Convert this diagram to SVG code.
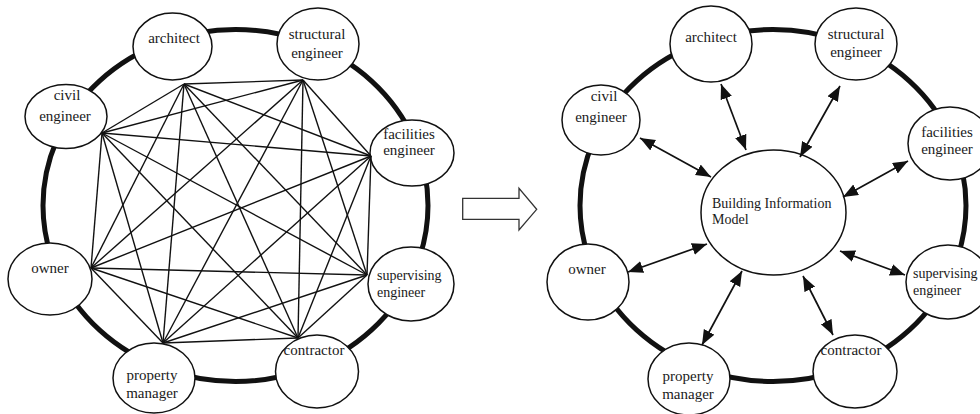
<svg xmlns="http://www.w3.org/2000/svg" width="980" height="414" viewBox="0 0 980 414">
<defs>
<marker id="ah" markerUnits="userSpaceOnUse" markerWidth="16" markerHeight="13" refX="15" refY="6" orient="auto-start-reverse" viewBox="0 0 16 13">
<path d="M0,0 L15,6 L0,12 z" fill="#111"/>
</marker>
<style>
.ring{fill:none;stroke:#111;stroke-width:5}
.node{fill:#fff;stroke:#111;stroke-width:1.5}
.t{font-family:"Liberation Serif","Times New Roman",serif;font-size:15px;fill:#1a1a1a;text-anchor:middle}
.ts{font-family:"Liberation Serif","Times New Roman",serif;font-size:14px;fill:#1a1a1a;text-anchor:start}
.l{stroke:#111;stroke-width:1.4}
.a{stroke:#111;stroke-width:1.7;marker-start:url(#ah);marker-end:url(#ah)}
</style>
</defs>
<rect width="980" height="414" fill="#fff"/>
<g id="rings">
<ellipse class="ring" cx="235.5" cy="205.5" rx="192.5" ry="176"/>
<ellipse class="ring" cx="773" cy="205.5" rx="193" ry="176"/>
</g>
<g id="left-nodes">
<g id="L-architect"><ellipse class="node" cx="172.5" cy="46.5" rx="39.5" ry="33.5"/><text class="t" x="174" y="43">architect</text></g>
<g id="L-structural"><ellipse class="node" cx="318" cy="44" rx="41" ry="36"/><text class="t" x="317" y="39">structural</text><text class="t" x="317" y="58">engineer</text></g>
<g id="L-civil"><ellipse class="node" cx="66" cy="116.5" rx="41" ry="32"/><text class="t" x="67" y="100">civil</text><text class="t" x="65" y="121">engineer</text></g>
<g id="L-facilities"><ellipse class="node" cx="412" cy="153" rx="42" ry="33"/><text class="t" x="409" y="139">facilities</text><text class="t" x="409" y="155">engineer</text></g>
<g id="L-owner"><ellipse class="node" cx="50" cy="279" rx="42" ry="36"/><text class="t" x="50" y="273">owner</text></g>
<g id="L-supervising"><ellipse class="node" cx="411" cy="284" rx="43" ry="37"/><text class="ts" x="377" y="280">supervising</text><text class="ts" x="377" y="297">engineer</text></g>
<g id="L-property"><ellipse class="node" cx="154" cy="378" rx="41" ry="35"/><text class="t" x="152" y="380">property</text><text class="t" x="152" y="398">manager</text></g>
<g id="L-contractor"><ellipse class="node" cx="317" cy="371.5" rx="41.5" ry="36.5"/><text class="t" x="314" y="355">contractor</text></g>
</g>
<g id="left-connectors">
<line class="l" x1="184" y1="84" x2="303" y2="80"/>
<line class="l" x1="184" y1="84" x2="102" y2="133"/>
<line class="l" x1="184" y1="84" x2="371" y2="156"/>
<line class="l" x1="184" y1="84" x2="91" y2="268"/>
<line class="l" x1="184" y1="84" x2="367" y2="275"/>
<line class="l" x1="184" y1="84" x2="163" y2="343"/>
<line class="l" x1="184" y1="84" x2="298" y2="338"/>
<line class="l" x1="303" y1="80" x2="102" y2="133"/>
<line class="l" x1="303" y1="80" x2="371" y2="156"/>
<line class="l" x1="303" y1="80" x2="91" y2="268"/>
<line class="l" x1="303" y1="80" x2="367" y2="275"/>
<line class="l" x1="303" y1="80" x2="163" y2="343"/>
<line class="l" x1="303" y1="80" x2="298" y2="338"/>
<line class="l" x1="102" y1="133" x2="371" y2="156"/>
<line class="l" x1="102" y1="133" x2="91" y2="268"/>
<line class="l" x1="102" y1="133" x2="367" y2="275"/>
<line class="l" x1="102" y1="133" x2="163" y2="343"/>
<line class="l" x1="102" y1="133" x2="298" y2="338"/>
<line class="l" x1="371" y1="156" x2="91" y2="268"/>
<line class="l" x1="371" y1="156" x2="367" y2="275"/>
<line class="l" x1="371" y1="156" x2="163" y2="343"/>
<line class="l" x1="371" y1="156" x2="298" y2="338"/>
<line class="l" x1="91" y1="268" x2="367" y2="275"/>
<line class="l" x1="91" y1="268" x2="163" y2="343"/>
<line class="l" x1="91" y1="268" x2="298" y2="338"/>
<line class="l" x1="367" y1="275" x2="163" y2="343"/>
<line class="l" x1="367" y1="275" x2="298" y2="338"/>
<line class="l" x1="163" y1="343" x2="298" y2="338"/>
</g>
<g id="transition-arrow">
<polygon points="462.7,198.3 519,198.3 519,188.3 536.7,209.3 519,230 519,219.3 462.7,219.3" fill="#fff" stroke="#333" stroke-width="1.3"/>
</g>
<g id="right-nodes">
<g id="R-architect"><ellipse class="node" cx="711" cy="44" rx="41" ry="38"/><text class="t" x="711" y="42">architect</text></g>
<g id="R-structural"><ellipse class="node" cx="856" cy="44" rx="41" ry="36"/><text class="t" x="856" y="38.5">structural</text><text class="t" x="856" y="57">engineer</text></g>
<g id="R-civil"><ellipse class="node" cx="601" cy="120" rx="39" ry="35"/><text class="t" x="604" y="101">civil</text><text class="t" x="601" y="122">engineer</text></g>
<g id="R-facilities"><ellipse class="node" cx="950" cy="143.5" rx="42" ry="36.5"/><text class="t" x="947" y="137">facilities</text><text class="t" x="947" y="154">engineer</text></g>
<g id="R-bim"><ellipse class="node" cx="773.5" cy="212.5" rx="72.5" ry="62.5"/><text class="ts" x="712" y="208">Building Information</text><text class="ts" x="712" y="223.5">Model</text></g>
<g id="R-owner"><ellipse class="node" cx="588" cy="282" rx="41" ry="38"/><text class="t" x="587" y="274">owner</text></g>
<g id="R-supervising"><ellipse class="node" cx="948" cy="282" rx="42" ry="37"/><text class="ts" x="913" y="278">supervising</text><text class="ts" x="913" y="295">engineer</text></g>
<g id="R-property"><ellipse class="node" cx="689" cy="379" rx="41" ry="36"/><text class="t" x="688" y="381">property</text><text class="t" x="688" y="399">manager</text></g>
<g id="R-contractor"><ellipse class="node" cx="855" cy="371.5" rx="42" ry="36.5"/><text class="t" x="851" y="355">contractor</text></g>
</g>
<g id="right-connectors">
<line class="a" x1="640" y1="138" x2="711" y2="177"/>
<line class="a" x1="721" y1="84" x2="746" y2="150"/>
<line class="a" x1="840" y1="86" x2="800" y2="157"/>
<line class="a" x1="908" y1="161" x2="843" y2="197"/>
<line class="a" x1="628" y1="272" x2="707" y2="244"/>
<line class="a" x1="905" y1="275" x2="840" y2="251"/>
<line class="a" x1="702" y1="345" x2="742" y2="271"/>
<line class="a" x1="833" y1="335" x2="803" y2="276"/>
</g>
</svg>
